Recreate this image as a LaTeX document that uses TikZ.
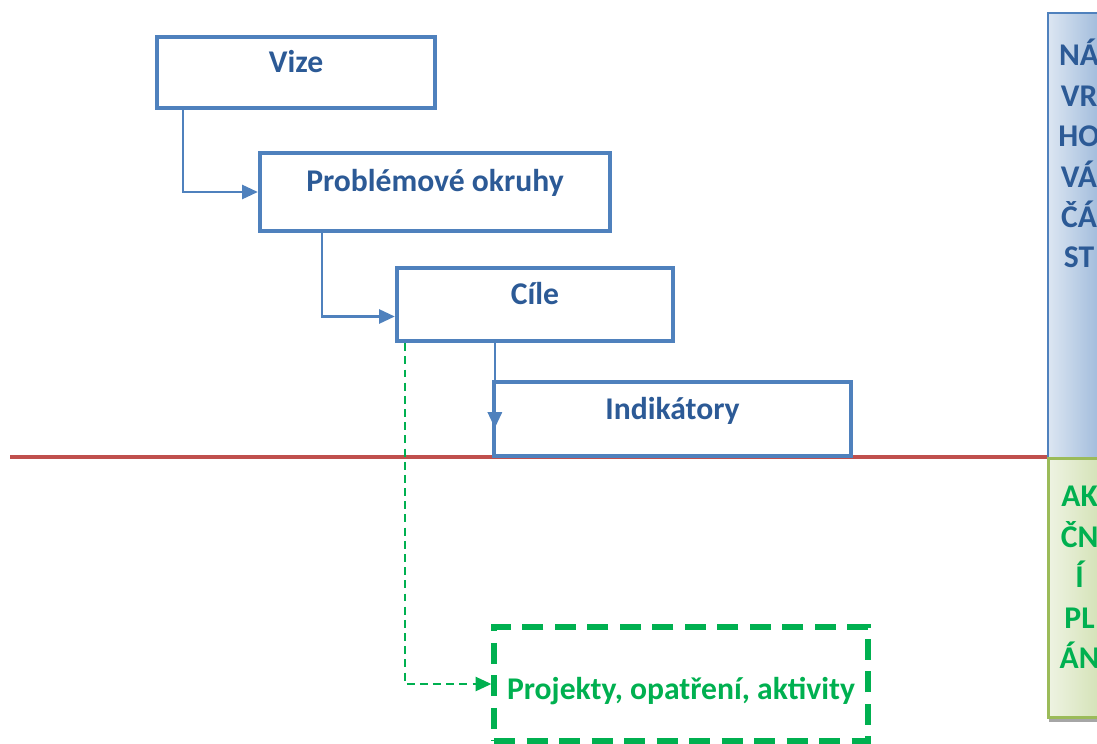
\documentclass[tikz,border=0pt]{standalone}
\usepackage{fontspec}
\setmainfont{Carlito}
\usetikzlibrary{arrows.meta, positioning, shadows}
\definecolor{okBlue}{HTML}{4F81BD}
\definecolor{okText}{HTML}{2C5A96}
\definecolor{okGreen}{HTML}{00B050}
\definecolor{okRed}{HTML}{C0504D}
\definecolor{barBlueL}{HTML}{DCE6F2}
\definecolor{barBlueR}{HTML}{95B3D7}
\definecolor{barGreenL}{HTML}{EEF3E2}
\definecolor{barGreenR}{HTML}{CFDFAE}
\definecolor{barGreenLine}{HTML}{9BBB59}

\begin{document}
\begin{tikzpicture}[x=0.02cm, y=-0.02cm,
  font=\fontsize{18}{23}\selectfont\bfseries,
  blok/.style={draw=okBlue, line width=2.5pt, fill=white, text=okText,
    text height=9pt, text depth=9pt, inner sep=0pt},
  akce/.style={draw=okGreen, line width=3pt, dash pattern=on 12pt off 6.5pt,
    text=okGreen, inner sep=0pt},
  spoj/.style={draw=okBlue, line width=1.5pt, -{Triangle[length=9pt,width=8pt]}},
  spojakce/.style={draw=okGreen, line width=1.3pt, dash pattern=on 4.5pt off 3pt,
    -{Triangle[length=9pt,width=8pt]}},
  pas/.style={inner sep=0pt, minimum width=1.24cm, anchor=north west}]
  \useasboundingbox (0,0) rectangle (1097,743);

  % pasy vpravo
  \node[pas, draw=okBlue, line width=1.2pt, left color=barBlueL, right color=barBlueR,
    minimum height=8.9cm] (navrh) at (1047,12) {};
  \node[pas, draw=barGreenLine, line width=1.8pt, left color=barGreenL, right color=barGreenR,
    minimum height=5.18cm, drop shadow={shadow xshift=0pt, shadow yshift=-2.5pt,
    fill=gray!70, opacity=1}] (akcni) at (1047,457) {};
  \node[align=center, text=okText, inner sep=0pt, anchor=north] (navrhtxt)
    at ([yshift=-0.54cm]navrh.north) {NÁ\\VR\\HO\\VÁ\\ČÁ\\ST};
  \node[align=center, text=okGreen, inner sep=0pt, anchor=north] (akcnitxt)
    at ([yshift=-0.58cm]akcni.north) {AK\\ČN\\Í\\PL\\ÁN};

  % hranice
  \coordinate (hranice) at (10,457);
  \draw[okRed, line width=2pt] (hranice) -- (hranice -| navrh.west);

  % strategicka cast
  \node[blok, minimum width=5.56cm, minimum height=1.42cm] (vize) at (296,72.5) {Vize};
  \node[blok, minimum width=7.0cm, minimum height=1.56cm] (okruhy) at (435,192) {Problémové okruhy};
  \node[blok, minimum width=5.52cm, minimum height=1.46cm] (cile) at (535,304.5) {Cíle};
  \node[blok, minimum width=7.14cm, minimum height=1.48cm] (ind) at (672.5,419) {Indikátory};

  % akcni cast
  \node[akce, minimum width=7.48cm, minimum height=2.28cm,
    text height=21pt, text depth=3pt] (proj) at (681,684) {Projekty, opatření, aktivity};

  \draw[spoj] ([xshift=0.56cm]vize.south west) |- (okruhy.west);
  \draw[spoj] ([xshift=1.28cm]okruhy.south west) |- ([yshift=-0.24cm]cile.west);
  \draw[spoj] ([xshift=0.06cm]ind.west |- cile.south) -- ([xshift=0.06cm, yshift=-0.18cm]ind.west);
  \draw[spojakce] ([xshift=0.2cm]cile.south west) |- (proj.west);
\end{tikzpicture}
\end{document}
